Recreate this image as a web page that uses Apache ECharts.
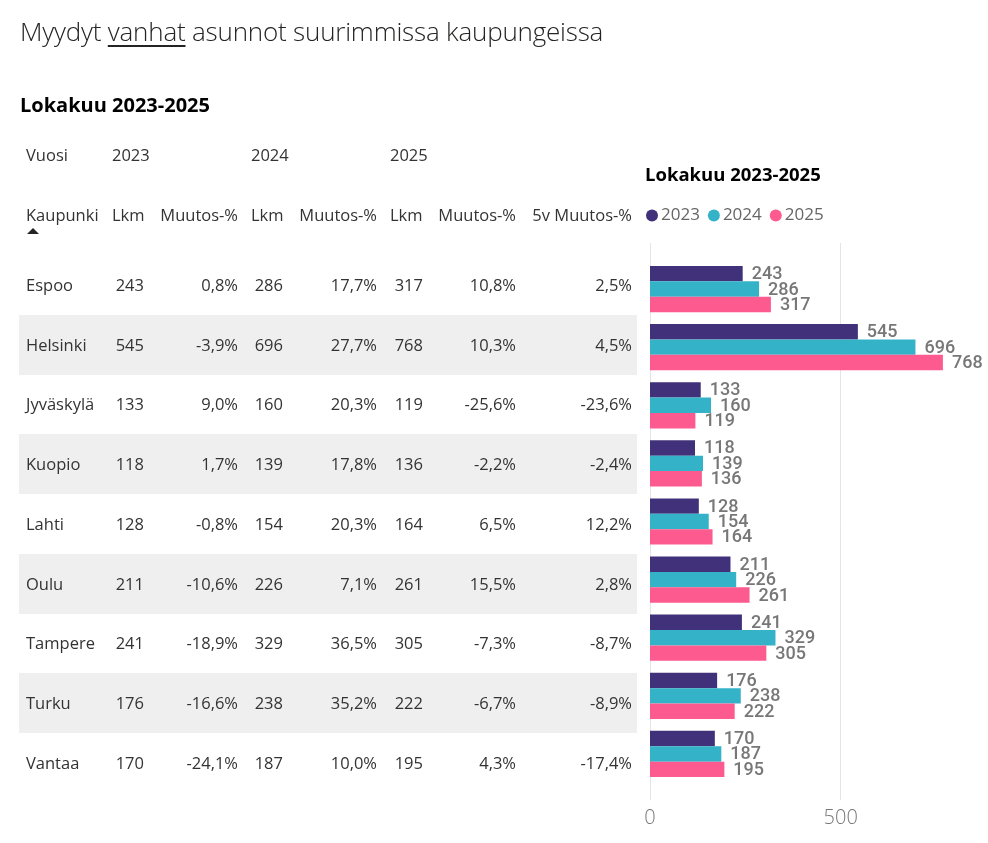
<!DOCTYPE html>
<html>
<head>
<meta charset="utf-8">
<script src="https://cdn.jsdelivr.net/npm/echarts@6/dist/echarts.min.js"></script>
<style>
  html, body { margin: 0; padding: 0; background: #fff; }
  #wrap { position: relative; width: 988px; height: 843px; overflow: hidden; font-family: 'Open Sans', sans-serif; }
  #chart { position: absolute; left: 0; top: 0; width: 988px; height: 843px; }
  #table { position: absolute; left: 0; top: 0; width: 988px; height: 843px; pointer-events: none; }
  .t { position: absolute; white-space: nowrap; font-size: 16.5px; color: #333; height: 24px; line-height: 24px; }
  .r { text-align: right; }
  .shade { position: absolute; background: #efefef; }
  #mainTitle { position: absolute; left: 20px; top: 13px; font-size: 26px; font-weight: 300; color: #252423; white-space: nowrap; letter-spacing: -0.2px; }
  #mainTitle u { text-decoration-thickness: 2px; text-underline-offset: 4px; }
  #tableTitle { position: absolute; left: 20px; top: 91px; font-size: 20px; font-weight: 700; color: #000; white-space: nowrap; }
  #sortArrow { position: absolute; left: 27px; top: 228px; width: 0; height: 0; border-left: 6px solid transparent; border-right: 6px solid transparent; border-bottom: 6px solid #252423; }
</style>
</head>
<body>
<div id="wrap">
  <div id="chart"></div>
  <div id="table"></div>
</div>
<script>
// ---- Data ----
const cities = ['Espoo', 'Helsinki', 'Jyväskylä', 'Kuopio', 'Lahti', 'Oulu', 'Tampere', 'Turku', 'Vantaa'];
const years = ['2023', '2024', '2025'];
const lkm2023 = [243, 545, 133, 118, 128, 211, 241, 176, 170];
const lkm2024 = [286, 696, 160, 139, 154, 226, 329, 238, 187];
const lkm2025 = [317, 768, 119, 136, 164, 261, 305, 222, 195];
const muutos2023 = [0.8, -3.9, 9.0, 1.7, -0.8, -10.6, -18.9, -16.6, -24.1];
const muutos2024 = [17.7, 27.7, 20.3, 17.8, 20.3, 7.1, 36.5, 35.2, 10.0];
const muutos2025 = [10.8, 10.3, -25.6, -2.2, 6.5, 15.5, -7.3, -6.7, 4.3];
const muutos5v = [2.5, 4.5, -23.6, -2.4, 12.2, 2.8, -8.7, -8.9, -17.4];
const headerYear = ['Vuosi', '2023', '2024', '2025'];
const headerCols = ['Kaupunki', 'Lkm', 'Muutos-%', 'Lkm', 'Muutos-%', 'Lkm', 'Muutos-%', '5v Muutos-%'];
const axisTicks = [0, 500];
const mainTitleParts = ['Myydyt ', 'vanhat', ' asunnot suurimmissa kaupungeissa'];
const subTitle = 'Lokakuu 2023-2025';

// ---- Table (HTML) ----
const fmtPct = v => v.toFixed(1).replace('.', ',') + '%';
const tbl = document.getElementById('table');
function addText(txt, x, yc, align) {
  const d = document.createElement('div');
  d.className = 't' + (align === 'right' ? ' r' : '');
  d.textContent = txt;
  d.style.top = (yc - 12) + 'px';
  if (align === 'right') { d.style.right = (988 - x) + 'px'; }
  else { d.style.left = x + 'px'; }
  tbl.appendChild(d);
}
const mt = document.createElement('div');
mt.id = 'mainTitle';
mt.innerHTML = mainTitleParts[0] + '<u>' + mainTitleParts[1] + '</u>' + mainTitleParts[2];
tbl.appendChild(mt);
const tt = document.createElement('div');
tt.id = 'tableTitle';
tt.textContent = subTitle;
tbl.appendChild(tt);

const rowTop0 = 255, rowH = 59.75;
cities.forEach((c, i) => {
  if (i % 2 === 1) {
    const s = document.createElement('div');
    s.className = 'shade';
    s.style.left = '19px'; s.style.width = '618px';
    s.style.top = (rowTop0 + i * rowH) + 'px';
    s.style.height = rowH + 'px';
    tbl.appendChild(s);
  }
});
const hx1 = [26, 112, 251, 390];
headerYear.forEach((h, k) => addText(h, hx1[k], 155, 'left'));
const hcol = [[26, 'left'], [112, 'left'], [238, 'right'], [251, 'left'], [377, 'right'], [390, 'left'], [516, 'right'], [632, 'right']];
headerCols.forEach((h, k) => addText(h, hcol[k][0], 215, hcol[k][1]));
const arrow = document.createElement('div');
arrow.id = 'sortArrow';
tbl.appendChild(arrow);
cities.forEach((c, i) => {
  const yc = rowTop0 + i * rowH + rowH / 2;
  addText(c, 26, yc, 'left');
  addText(String(lkm2023[i]), 144, yc, 'right');
  addText(fmtPct(muutos2023[i]), 238, yc, 'right');
  addText(String(lkm2024[i]), 283, yc, 'right');
  addText(fmtPct(muutos2024[i]), 377, yc, 'right');
  addText(String(lkm2025[i]), 423, yc, 'right');
  addText(fmtPct(muutos2025[i]), 516, yc, 'right');
  addText(fmtPct(muutos5v[i]), 632, yc, 'right');
});

// ---- Bar chart (ECharts) ----
const colors = ['#41307a', '#33b2c8', '#fd5a8f'];
const seriesData = [lkm2023, lkm2024, lkm2025];
const chart = echarts.init(document.getElementById('chart'), null, { renderer: 'canvas' });
const axisMax = 800, pxPerUnit = 190.7 / 500;
const gridLeft = 650, gridWidth = axisMax * pxPerUnit;
chart.setOption({
  animation: false,
  title: {
    text: subTitle, left: 645, top: 166, padding: 0,
    textStyle: { fontFamily: 'Open Sans', fontSize: 18.5, fontWeight: 'bold', color: '#000' }
  },
  legend: {
    data: years, left: 646, top: 207, padding: 0, icon: 'circle', itemWidth: 12, itemHeight: 12, itemGap: 8,
    textStyle: { fontFamily: 'Open Sans', fontSize: 17, color: '#666', padding: [0, 0, 0, -2] }
  },
  grid: [
    { left: gridLeft, top: 260, width: gridWidth, height: 523 },
    { left: gridLeft, top: 243, width: gridWidth, height: 557 }
  ],
  xAxis: [
    { gridIndex: 0, type: 'value', min: 0, max: axisMax, show: false },
    {
      gridIndex: 1, type: 'value', min: 0, max: axisMax, interval: 500,
      axisLine: { show: false }, axisTick: { show: false },
      splitLine: { show: true, showMaxLine: false, lineStyle: { color: '#e4e4e4', width: 1 } },
      axisLabel: {
        margin: 8, fontFamily: 'Open Sans', fontWeight: 300, fontSize: 20, color: '#777',
        formatter: v => (axisTicks.indexOf(v) >= 0 ? String(v) : '')
      }
    }
  ],
  yAxis: [
    { gridIndex: 0, type: 'category', data: cities, inverse: true, show: false },
    { gridIndex: 1, type: 'value', min: 0, max: 1, show: false }
  ],
  series: years.map((y, k) => ({
    name: y, type: 'bar', xAxisIndex: 0, yAxisIndex: 0,
    data: seriesData[k], barWidth: 15.4, barGap: '0%',
    itemStyle: { color: colors[k] },
    label: {
      show: true, position: 'right', distance: 9,
      fontFamily: 'Roboto', fontWeight: 500, fontSize: 18, color: '#777', offset: [0, 1]
    }
  }))
});
</script>
</body>
</html>
